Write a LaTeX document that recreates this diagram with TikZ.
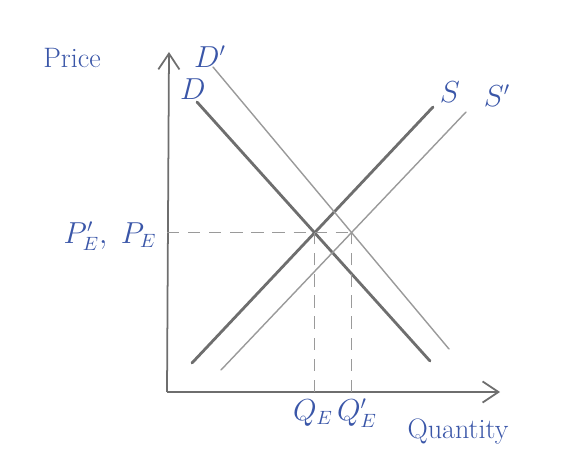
\documentclass[tikz,border=0pt]{standalone}
\usepackage{xcolor}
\usepackage{tikz}
\usepackage{amsmath}
\usetikzlibrary{arrows.meta, positioning, calc}
\definecolor{inkblue}{HTML}{3A56A8}
\definecolor{pencil}{HTML}{6E6E6E}
\definecolor{pencillight}{HTML}{9A9A9A}

\begin{document}
\begin{tikzpicture}[
    x=0.02cm, y=-0.02cm,
    axis/.style={draw=pencil, line width=1pt, -{Straight Barb[length=9pt, width=12pt, line width=1pt]}},
    curve/.style={draw=pencil, line width=1.6pt, line cap=round},
    shifted/.style={draw=pencillight, line width=0.8pt, line cap=round},
    guide/.style={draw=pencillight, line width=0.7pt, dash pattern=on 7pt off 5pt},
    label/.style={font=\fontsize{16}{19}\selectfont, color=inkblue}
]
\useasboundingbox (0,0) rectangle (562,473);

% axes
\coordinate (O) at (167,392);
\coordinate (ytop) at (169,52);
\coordinate (xend) at (500,392);
\draw[axis] (O) -- (ytop);
\draw[axis] (O) -- (xend);

% demand and supply
\coordinate (d1) at (197,102);
\coordinate (d2) at (430,361);
\coordinate (dd1) at (213,67);
\coordinate (dd2) at (449,349);
\coordinate (s1) at (192,363);
\coordinate (s2) at (433,107);
\coordinate (ss1) at (221,370);
\coordinate (ss2) at (466,112);
\draw[curve] (d1) -- (d2);
\draw[curve] (s1) -- (s2);
\draw[shifted] (dd1) -- (dd2);
\draw[shifted] (ss1) -- (ss2);

% equilibria
\coordinate (E) at (intersection of d1--d2 and s1--s2);
\coordinate (E2) at (intersection of dd1--dd2 and ss1--ss2);
\draw[guide] (E |- O) -- (E);
\draw[guide] (E2 |- O) -- (E2);
\draw[guide] (O |- E) -- (E2 |- E);

% labels
\node[label] (price) at (72,58) {Price};
\node[label] (quant) at (458,432) {Quantity};
\node[label] (dlab) at (193,89) {$D$};
\node[label] (ddlab) at (210,57) {$D'$};
\node[label] (slab) at (450,92) {$S$};
\node[label] (sslab) at (497,96) {$S'$};
\node[label] (plab) at (110,236) {$P'_E,\ P_E$};
\node[label] (qlab) at (313,413) {$Q_E$};
\node[label] (qqlab) at (357,413) {$Q'_E$};

\end{tikzpicture}
\end{document}
